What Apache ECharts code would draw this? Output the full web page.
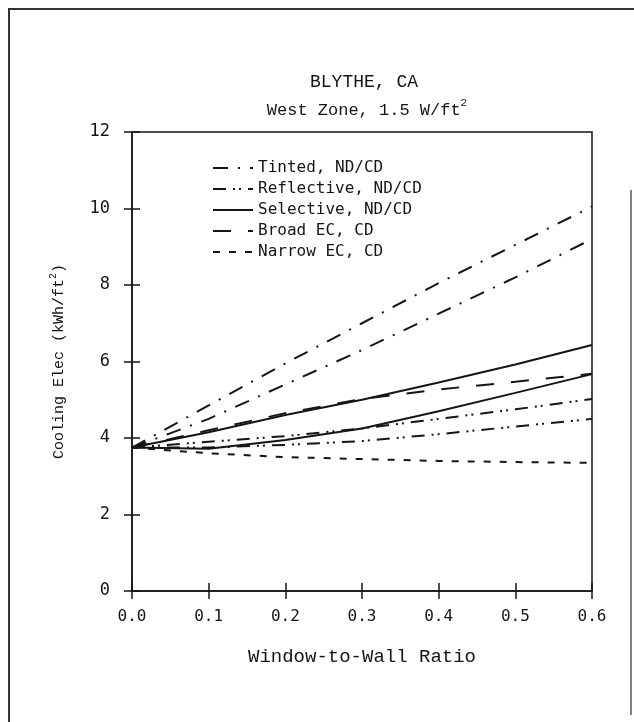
<!DOCTYPE html>
<html><head><meta charset="utf-8">
<script src="https://cdn.jsdelivr.net/npm/echarts@6/dist/echarts.min.js"></script>
<style>html,body{margin:0;padding:0;background:#fff}#c{width:634px;height:722px}</style>
</head><body><div id="c"></div>
<script>
// ---- data ----
const wwr = [0, 0.1, 0.2, 0.3, 0.4, 0.5, 0.6];
const tintedND = [3.75, 4.85, 5.95, 7.0, 8.05, 9.05, 10.05];
const tintedCD = [3.75, 4.5, 5.4, 6.3, 7.25, 8.2, 9.2];
const reflectiveND = [3.75, 3.9, 4.05, 4.25, 4.5, 4.75, 5.02];
const reflectiveCD = [3.75, 3.75, 3.82, 3.92, 4.1, 4.3, 4.5];
const selectiveND = [3.75, 4.15, 4.6, 5.0, 5.45, 5.92, 6.43];
const selectiveCD = [3.75, 3.72, 3.95, 4.25, 4.7, 5.18, 5.67];
const broadEC = [3.75, 4.2, 4.65, 5.02, 5.27, 5.47, 5.68];
const narrowEC = [3.75, 3.6, 3.5, 3.45, 3.4, 3.37, 3.35];
const legendNames = ['Tinted, ND/CD', 'Reflective, ND/CD', 'Selective, ND/CD', 'Broad EC, CD', 'Narrow EC, CD'];
const xTickLabels = ['0.0', '0.1', '0.2', '0.3', '0.4', '0.5', '0.6'];
const yTickLabels = ['0', '2', '4', '6', '8', '10', '12'];

// ---- styling ----
const INK = '#151515';
const MONO = '"Liberation Mono", "DejaVu Sans Mono", monospace';
const SANSMONO = '"DejaVu Sans Mono", monospace';
const dashes = {
  'Tinted, ND/CD': [15, 10, 2, 10],
  'Reflective, ND/CD': [13, 7, 2, 4, 2, 7],
  'Selective, ND/CD': 'solid',
  'Broad EC, CD': [18, 17],
  'Narrow EC, CD': [7, 9]
};
function pts(arr) { return wwr.map((x, i) => [x, arr[i]]); }
function mk(name, arr) {
  return {
    type: 'line', name: name, data: pts(arr), xAxisIndex: 0, yAxisIndex: 0,
    symbol: 'none', smooth: false, animation: false,
    lineStyle: { color: INK, width: 2, type: dashes[name] },
    itemStyle: { color: INK }
  };
}
const series = [
  mk(legendNames[0], tintedND), mk(legendNames[0], tintedCD),
  mk(legendNames[1], reflectiveND), mk(legendNames[1], reflectiveCD),
  mk(legendNames[2], selectiveND), mk(legendNames[2], selectiveCD),
  mk(legendNames[3], broadEC), mk(legendNames[4], narrowEC)
];

const axisCommonX = { type: 'value', min: 0, max: 0.6, interval: 0.1, gridIndex: 0, splitLine: { show: false } };
const axisCommonY = { type: 'value', min: 0, max: 12, interval: 2, gridIndex: 0, splitLine: { show: false } };

const chart = echarts.init(document.getElementById('c'), null, { renderer: 'canvas' });
chart.setOption({
  backgroundColor: '#fff',
  animation: false,
  title: [
    { text: 'BLYTHE, CA', left: 359, textAlign: 'center', top: 68,
      textStyle: { fontFamily: MONO, fontSize: 18, fontWeight: 'normal', color: INK } },
    { text: '{a|West Zone, 1.5 W/ft}{s|2}', left: 362, textAlign: 'center', top: 93,
      textStyle: { fontWeight: 'normal', rich: {
        a: { fontFamily: MONO, fontSize: 17, fontWeight: 'normal', color: INK, lineHeight: 24 },
        s: { fontFamily: MONO, fontSize: 11, fontWeight: 'normal', color: INK, verticalAlign: 'top', lineHeight: 12 }
      } } }
  ],
  grid: { left: 132, right: 42, top: 132, bottom: 131, show: true, borderColor: INK, borderWidth: 1.5, backgroundColor: 'transparent' },
  legend: {
    data: legendNames, orient: 'vertical', left: 207, top: 155,
    itemWidth: 40, itemHeight: 16, itemGap: 5,
    itemStyle: { opacity: 0, borderWidth: 0 },
    textStyle: { fontFamily: SANSMONO, fontSize: 16, color: INK, lineHeight: 16 },
    selectedMode: false
  },
  xAxis: [
    Object.assign({}, axisCommonX, {
      position: 'bottom',
      axisLine: { show: true, onZero: false, lineStyle: { color: INK, width: 1.5 } },
      axisTick: { show: true, inside: true, length: 8, lineStyle: { color: INK, width: 1.5 } },
      axisLabel: { show: true, margin: 18, fontFamily: SANSMONO, fontSize: 16, color: INK,
        formatter: v => xTickLabels[Math.round(v * 10)] },
      name: 'Window-to-Wall Ratio', nameLocation: 'middle', nameGap: 56,
      nameTextStyle: { fontFamily: MONO, fontSize: 19, color: INK }
    }),
    Object.assign({}, axisCommonX, {
      position: 'bottom',
      axisLine: { show: false, onZero: false },
      axisTick: { show: true, inside: false, length: 8, lineStyle: { color: INK, width: 1.5 } },
      axisLabel: { show: false }
    })
  ],
  yAxis: [
    Object.assign({}, axisCommonY, {
      position: 'left',
      axisLine: { show: true, onZero: false, lineStyle: { color: INK, width: 1.5 } },
      axisTick: { show: true, inside: true, length: 8, lineStyle: { color: INK, width: 1.5 } },
      axisLabel: { show: true, margin: 22, fontFamily: SANSMONO, fontSize: 17, color: INK,
        formatter: v => yTickLabels[Math.round(v / 2)] },
      name: '{a|Cooling Elec (kWh/ft}{s|2}{a|)}', nameLocation: 'middle', nameGap: 62,
      nameTextStyle: { rich: {
        a: { fontFamily: MONO, fontSize: 15, color: INK, lineHeight: 22 },
        s: { fontFamily: MONO, fontSize: 10, color: INK, verticalAlign: 'top', lineHeight: 11 }
      } }
    }),
    Object.assign({}, axisCommonY, {
      position: 'left',
      axisLine: { show: false, onZero: false },
      axisTick: { show: true, inside: false, length: 8, lineStyle: { color: INK, width: 1.5 } },
      axisLabel: { show: false }
    })
  ],
  series: series,
  graphic: [
    { type: 'line', shape: { x1: 8, y1: 9, x2: 634, y2: 9 }, style: { stroke: '#333', lineWidth: 2 }, silent: true },
    { type: 'line', shape: { x1: 9, y1: 9, x2: 9, y2: 722 }, style: { stroke: '#333', lineWidth: 2 }, silent: true },
    { type: 'line', shape: { x1: 631, y1: 190, x2: 631, y2: 715 }, style: { stroke: '#555', lineWidth: 1.5 }, silent: true }
  ]
});
</script>
</body></html>
